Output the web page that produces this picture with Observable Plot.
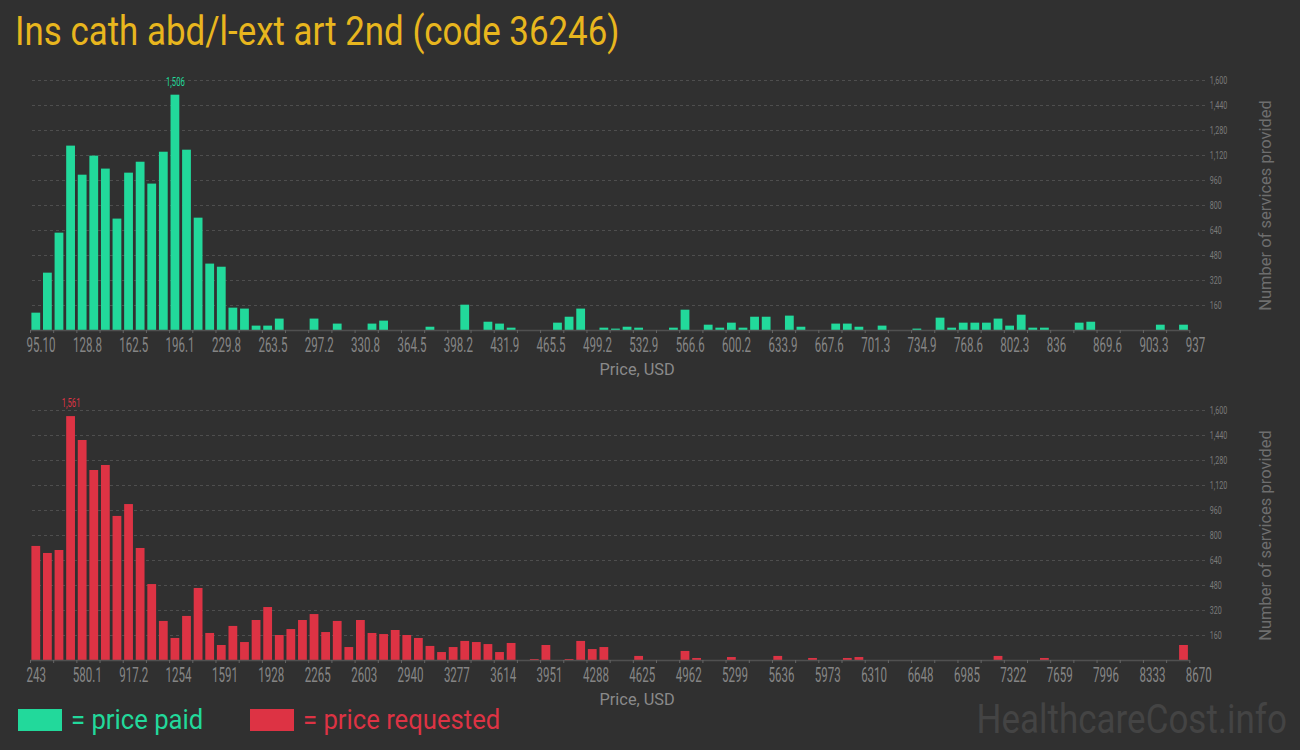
<!DOCTYPE html>
<html><head><meta charset="utf-8">
<script src="https://cdn.jsdelivr.net/npm/d3@7"></script>
<script src="https://cdn.jsdelivr.net/npm/@observablehq/plot@0.6"></script>
<style>
html,body{margin:0;padding:0;background:#303030;}
#root{position:relative;width:1300px;height:750px;background:#303030;overflow:hidden;font-family:Roboto,sans-serif;}
#title{position:absolute;left:15px;top:12px;font-size:40px;line-height:40px;color:#e8b61e;transform:scaleX(0.872);transform-origin:0 0;white-space:nowrap;}
.chart{position:absolute;left:0;width:1300px;}
#legend{position:absolute;left:18px;top:705px;height:30px;}
.item{position:absolute;top:0;display:flex;align-items:center;height:30px;white-space:nowrap;}
.box{width:44px;height:22px;display:inline-block;}
.lt{display:inline-block;font-size:27px;line-height:30px;margin-left:9px;transform:scaleX(0.95);transform-origin:0 50%;}
#mark{position:absolute;right:13px;top:697px;font-size:41px;line-height:44px;color:#444444;transform:scaleX(0.853);transform-origin:100% 0;white-space:nowrap;}
</style></head>
<body><div id="root">
<div id="title">Ins cath abd/l-ext art 2nd (code 36246)</div>
<div id="top" class="chart" style="top:60px"></div>
<div id="bottom" class="chart" style="top:390px"></div>
<div id="legend"></div>
<div id="mark">HealthcareCost.info</div>
</div>
<script>
// ---- data ----
const paidTickLabels = ["95.10","128.8","162.5","196.1","229.8","263.5","297.2","330.8","364.5","398.2","431.9","465.5","499.2","532.9","566.6","600.2","633.9","667.6","701.3","734.9","768.6","802.3","836","869.6","903.3","937"];
const requestedTickLabels = ["243","580.1","917.2","1254","1591","1928","2265","2603","2940","3277","3614","3951","4288","4625","4962","5299","5636","5973","6310","6648","6985","7322","7659","7996","8333","8670"];
const paidCounts = [111,367,623,1180,994,1116,1033,713,1007,1077,937,1141,1506,1154,719,425,405,143,137,28,
  28,73,0,0,73,0,41,0,0,41,60,0,0,0,21,0,0,162,0,53,
  41,15,0,0,0,47,85,137,0,15,9,21,15,0,0,15,130,0,34,15,
  47,15,85,85,0,92,21,0,0,41,41,21,0,28,0,0,9,0,79,15,
  47,47,47,73,28,98,15,15,0,0,47,53,0,0,0,0,0,34,0,34];
const requestedCounts = [730,685,704,1561,1408,1216,1248,922,998,717,486,250,141,282,461,173,96,218,115,256,
  339,160,198,256,294,179,250,83,256,173,166,192,160,141,90,51,83,122,115,102,
  51,109,0,6,96,0,6,122,70,83,0,0,26,0,0,0,58,13,0,0,
  19,0,0,0,26,0,0,13,0,0,13,19,0,0,0,0,0,0,0,0,
  0,0,0,26,0,0,0,13,0,0,0,0,0,0,0,0,0,0,0,96];
const yTickValues = [160,320,480,640,800,960,1120,1280,1440,1600];
const series = [
  {key: "paid", label: "price paid", color: "#22d99b", counts: paidCounts, ticks: paidTickLabels},
  {key: "requested", label: "price requested", color: "#dd3344", counts: requestedCounts, ticks: requestedTickLabels}
];

// ---- helpers ----
function toBins(counts, lo, hi) {
  const w = (hi - lo) / counts.length;
  return counts.map((c, i) => ({i, x1: lo + i * w, x2: lo + (i + 1) * w, count: c}));
}
function condense(root, selector, s, shift = 0) {
  root.querySelectorAll(selector).forEach(t => {
    const tr = t.getAttribute("transform");
    if (tr) t.setAttribute("transform", `translate(${shift},0) ${tr} scale(${s},1)`);
  });
}
const fmt = d3.format(",");

function makeChart(s) {
  const lo = +s.ticks[0], hi = +s.ticks[s.ticks.length - 1];
  const bins = toBins(s.counts, lo, hi);
  const tickVals = s.ticks.map(Number);
  const tickText = new Map(s.ticks.map(t => [+t, t]));
  const minorTicks = bins.filter(b => b.i % 2 === 0).map(b => b.x1).concat([hi]);
  const peak = bins.reduce((a, b) => (b.count > a.count ? b : a));
  const svg = Plot.plot({
    width: 1300, height: 320,
    marginTop: 20, marginBottom: 50, marginLeft: 30, marginRight: 110.7,
    style: {background: "transparent", color: "#8a8a8a", fontFamily: "Roboto, sans-serif", overflow: "visible"},
    x: {domain: [lo, hi]},
    y: {domain: [0, 1600]},
    marks: [
      Plot.ruleY(yTickValues, {stroke: "#4e4e4e", strokeWidth: 1, strokeDasharray: "3,3", insetLeft: 2, insetRight: -18}),
      Plot.rectY(bins, {x1: "x1", x2: "x2", y: "count", fill: s.color, insetLeft: 1.4, insetRight: 1.4}),
      Plot.ruleY([0], {stroke: "#505050", strokeWidth: 1.5}),
      Plot.axisX({ticks: minorTicks, tickSize: 3, tickFormat: () => "", stroke: "#666", label: null}),
      Plot.axisX({ticks: tickVals, tickSize: 0, tickPadding: 6.5, tickFormat: d => tickText.get(d), textAnchor: "start", dx: -4, fontSize: 21, fill: "#858585", label: null}),
      Plot.axisX({ticks: [], label: "Price, USD", labelAnchor: "center", labelArrow: "none", labelOffset: 44, fontSize: 17, fill: "#8a8a8a"}),
      Plot.axisY({anchor: "right", ticks: yTickValues, tickSize: 0, tickPadding: 20, tickFormat: fmt, fontSize: 11, fill: "#7a7a7a", label: null}),
      Plot.axisY({anchor: "right", ticks: [], label: "Number of services provided", labelAnchor: "center", labelArrow: "none", labelOffset: 81, dy: -3, fontSize: 16.5, fill: "#6e6e6e"}),
      Plot.text([peak], {x: d => (d.x1 + d.x2) / 2, y: "count", text: d => fmt(d.count), dy: -13, fontSize: 12, fill: s.color})
    ]
  });
  svg.querySelectorAll('g[aria-label="x-axis tick label"]').forEach(g => condense(g, "text", 0.55));
  svg.querySelectorAll('g[aria-label="y-axis tick label"]').forEach(g => condense(g, "text", 0.65));
  svg.querySelectorAll('g[aria-label="x-axis label"]').forEach(g => condense(g, "text", 0.96, 27));
  svg.querySelectorAll('g[aria-label="text"]').forEach(g => condense(g, "text", 0.64));
  return svg;
}

document.getElementById("top").appendChild(makeChart(series[0]));
document.getElementById("bottom").appendChild(makeChart(series[1]));

const legend = document.getElementById("legend");
series.forEach((s, i) => {
  const it = document.createElement("div");
  it.className = "item";
  it.style.left = (i * 232) + "px";
  it.innerHTML = `<span class="box" style="background:${s.color}"></span><span class="lt" style="color:${s.color}">= ${s.label}</span>`;
  legend.appendChild(it);
});
</script>
</body></html>
